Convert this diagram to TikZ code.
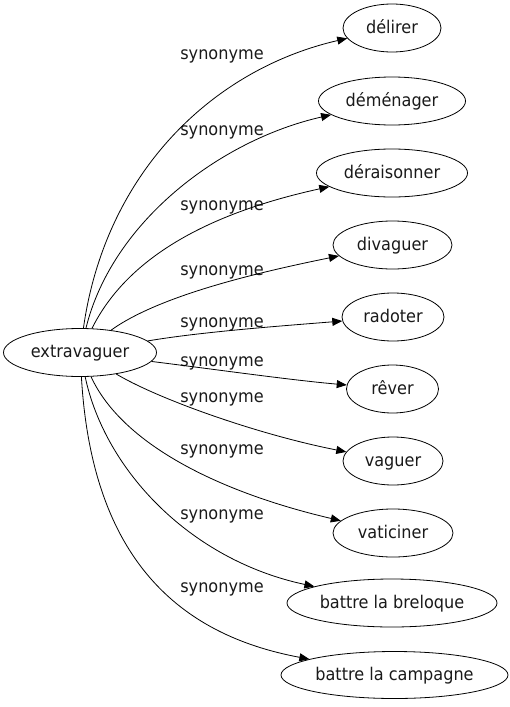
\documentclass[tikz,border=0pt]{standalone}
\usepackage{fontspec}
\setmainfont{DejaVu Sans}[FakeStretch=0.92]
\usetikzlibrary{shapes.geometric,arrows.meta}
\begin{document}
\begin{tikzpicture}[x=1pt,y=-1pt,
  nd/.style={ellipse,draw,line width=0.8pt,inner sep=0pt,minimum height=48pt,
    text height=12pt,text depth=2pt,font=\fontsize{17.5}{20}\selectfont,text=black!90},
  lbl/.style={anchor=base,inner sep=0pt,font=\fontsize{17.5}{20}\selectfont,text=black!90},
  edge/.style={draw,line width=0.8pt,-{Triangle[length=10pt,width=8pt]}}]
\useasboundingbox (0,0) rectangle (510,707);
\node[nd,minimum width=153pt] (ext) at (80,352.5) {extravaguer};
\node[nd,minimum width=98pt] (n1) at (392,28) {délirer};
\node[nd,minimum width=147pt] (n2) at (392,101) {déménager};
\node[nd,minimum width=151pt] (n3) at (392,173) {déraisonner};
\node[nd,minimum width=119pt] (n4) at (392.5,245) {divaguer};
\node[nd,minimum width=102pt] (n5) at (393,317) {radoter};
\node[nd,minimum width=92pt] (n6) at (392.5,389) {rêver};
\node[nd,minimum width=100pt] (n7) at (393,461) {vaguer};
\node[nd,minimum width=120pt] (n8) at (393,533) {vaticiner};
\node[nd,minimum width=210pt] (n9) at (392,603) {battre la breloque};
\node[nd,minimum width=227pt,minimum height=47pt] (n10) at (394.5,675) {battre la campagne};
\node[lbl] (l1) at (222,59) {synonyme};
\node[lbl] (l2) at (222,135) {synonyme};
\node[lbl] (l3) at (222,210) {synonyme};
\node[lbl] (l4) at (222,275) {synonyme};
\node[lbl] (l5) at (222,327) {synonyme};
\node[lbl] (l6) at (222,366) {synonyme};
\node[lbl] (l7) at (222,402) {synonyme};
\node[lbl] (l8) at (222,454) {synonyme};
\node[lbl] (l9) at (222,519) {synonyme};
\node[lbl] (l10) at (222,592) {synonyme};
\draw[edge] (ext) .. controls (105,175) and (210,70) .. (n1);
\draw[edge] (ext) .. controls (112,222) and (220,140) .. (n2);
\draw[edge] (ext) .. controls (125,262) and (200,215) .. (n3);
\draw[edge] (ext) .. controls (160,295) and (260,272) .. (n4);
\draw[edge] (ext) .. controls (200,332) and (280,326) .. (n5);
\draw[edge] (ext) .. controls (220,370) and (290,380) .. (n6);
\draw[edge] (ext) .. controls (160,400) and (260,435) .. (n7);
\draw[edge] (ext) .. controls (120,440) and (210,490) .. (n8);
\draw[edge] (ext) .. controls (105,470) and (190,560) .. (n9);
\draw[edge] (ext) .. controls (92,560) and (180,635) .. (n10);
\end{tikzpicture}
\end{document}
